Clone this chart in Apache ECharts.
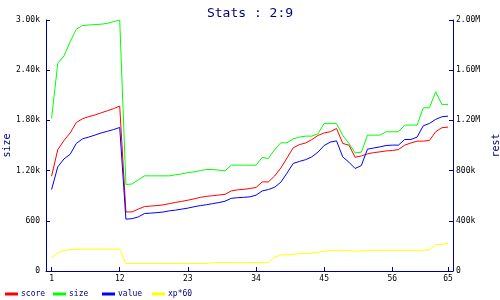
<!DOCTYPE html>
<html><head><meta charset="utf-8">
<script src="https://cdn.jsdelivr.net/npm/echarts@6/dist/echarts.min.js"></script>
<style>html,body{margin:0;padding:0;background:#fff}#c{width:500px;height:300px}</style>
</head><body><div id="c"></div>
<script>
var xTicks = [1, 12, 23, 34, 45, 56, 65];
var leftTicks = ['0', '600', '1.20k', '1.80k', '2.40k', '3.00k'];
var rightTicks = ['0', '400k', '800k', '1.20M', '1.60M', '2.00M'];
var seriesNames = ['score', 'size', 'value', 'xp*60'];
var score = [1133,1450,1560,1650,1776,1820,1845,1865,1890,1915,1940,1971,706,706,740,770,776,782,790,805,820,832,846,862,880,892,900,908,916,957,970,976,986,998,1065,1065,1135,1230,1350,1472,1510,1530,1570,1620,1650,1664,1704,1525,1504,1360,1375,1400,1415,1424,1435,1440,1452,1504,1530,1552,1552,1560,1664,1712,1720];
var size = [1824,2482,2570,2740,2890,2935,2940,2945,2950,2960,2980,3000,1034,1040,1090,1137,1137,1137,1137,1137,1150,1160,1177,1185,1200,1213,1213,1205,1197,1265,1265,1265,1265,1265,1357,1345,1450,1532,1532,1580,1600,1612,1612,1640,1764,1764,1764,1620,1525,1412,1420,1624,1624,1624,1664,1664,1664,1744,1744,1744,1951,1951,2142,1991,1991];
var value = [649000,830000,893000,930000,1017000,1053000,1067000,1083000,1100000,1113000,1127000,1144000,413000,417000,431000,458000,461000,465000,470000,479000,485000,493000,501000,512000,521000,528000,537000,545000,556000,579000,584000,587000,591000,604000,638000,649000,667000,707000,780000,857000,873000,887000,909000,947000,1000000,1027000,1037000,909000,867000,817000,840000,971000,980000,989000,1000000,1003000,1003000,1048000,1048000,1067000,1157000,1176000,1208000,1229000,1234000];
var xp60 = [160,215,245,255,260,260,260,260,260,260,260,260,90,90,90,90,90,90,90,90,90,90,90,90,90,90,100,100,100,100,100,100,100,100,100,100,165,190,196,200,205,208,215,225,236,245,248,248,242,236,240,244,248,248,248,248,248,248,248,248,248,255,316,318,328];

function pairs(arr){ return arr.map(function(v,i){ return [i+1, v]; }); }
var NAVY = '#000080';
var FONT = 'DejaVu Sans Mono';
var legendLefts = [5, 53, 102, 152];
var legends = seriesNames.map(function(n, i){
  return {
    left: legendLefts[i], top: 290, padding: 0, itemWidth: 13, itemHeight: 3, icon: 'rect', itemGap: 0,
    textStyle: { fontFamily: FONT, fontSize: 8, color: NAVY, padding: [0,0,0,-2] },
    data: [n]
  };
});
var chart = echarts.init(document.getElementById('c'), null, {renderer:'canvas'});
chart.setOption({
  animation: false,
  backgroundColor: '#fff',
  title: { text: 'Stats : 2:9', left: 'center', top: 2, textStyle: { color: NAVY, fontFamily: FONT, fontSize: 13, fontWeight: 'normal' } },
  grid: { left: 46, right: 47, top: 20, bottom: 29, containLabel: false, outerBoundsMode: 'none' },
  legend: legends,
  xAxis: {
    type: 'value', min: 0.1, max: 65.8,
    axisLine: { lineStyle: { color: NAVY, width: 1 } },
    axisTick: { inside: true, length: 4, lineStyle: { color: NAVY }, customValues: xTicks },
    axisLabel: { customValues: xTicks, color: '#000', fontFamily: FONT, fontSize: 8, margin: 4 },
    splitLine: { show: false }
  },
  yAxis: [{
    type: 'value', min: 0, max: 3000, interval: 600, position: 'left',
    name: 'size', nameLocation: 'middle', nameGap: 34, nameRotate: 90, nameMoveOverlap: false,
    nameTextStyle: { color: NAVY, fontFamily: FONT, fontSize: 10 },
    axisLine: { show: true, lineStyle: { color: NAVY, width: 1 } },
    axisTick: { show: true, inside: true, length: 4, lineStyle: { color: NAVY } },
    axisLabel: { color: '#000', fontFamily: FONT, fontSize: 8, margin: 6, formatter: function(v){ return leftTicks[Math.round(v/600)]; } },
    splitLine: { show: false }
  }, {
    type: 'value', min: 0, max: 2000000, interval: 400000, position: 'right',
    name: 'rest', nameLocation: 'middle', nameGap: 38, nameRotate: 90, nameMoveOverlap: false,
    nameTextStyle: { color: NAVY, fontFamily: FONT, fontSize: 10 },
    axisLine: { show: true, lineStyle: { color: NAVY, width: 1 } },
    axisTick: { show: true, inside: true, length: 4, lineStyle: { color: NAVY } },
    axisLabel: { color: '#000', fontFamily: FONT, fontSize: 8, margin: 3, formatter: function(v){ return rightTicks[Math.round(v/400000)]; } },
    splitLine: { show: false }
  }],
  series: [
    { name: 'score', type: 'line', yAxisIndex: 0, data: pairs(score), showSymbol: false, lineStyle: { color: '#ff0000', width: 1 }, itemStyle: { color: '#ff0000' } },
    { name: 'size', type: 'line', yAxisIndex: 0, data: pairs(size), showSymbol: false, lineStyle: { color: '#00ff00', width: 1 }, itemStyle: { color: '#00ff00' } },
    { name: 'value', type: 'line', yAxisIndex: 1, data: pairs(value), showSymbol: false, lineStyle: { color: '#0000ff', width: 1 }, itemStyle: { color: '#0000ff' } },
    { name: 'xp*60', type: 'line', yAxisIndex: 0, data: pairs(xp60), showSymbol: false, lineStyle: { color: '#ffff00', width: 1 }, itemStyle: { color: '#ffff00' } }
  ]
});
</script></body></html>
